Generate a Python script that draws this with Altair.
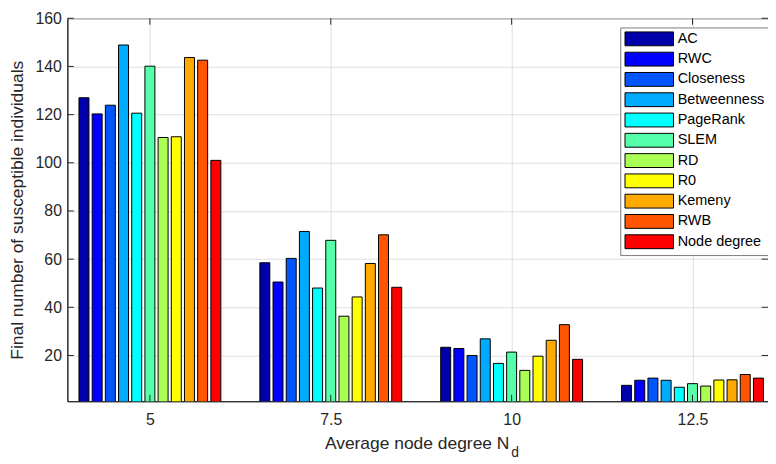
import altair as alt
import pandas as pd

methods = ["AC", "RWC", "Closeness", "Betweenness", "PageRank", "SLEM",
           "RD", "R0", "Kemeny", "RWB", "Node degree"]
colors = ["#0000AA", "#0000FF", "#0055FF", "#00AAFF", "#00FFFF", "#55FFAA",
          "#AAFF55", "#FFFF00", "#FFAA00", "#FF5500", "#FF0000"]
groups = [5, 7.5, 10, 12.5]
yticks = [20, 40, 60, 80, 100, 120, 140, 160]

ac = [127.0, 58.5, 23.4, 7.6]
rwc = [120.3, 50.5, 22.9, 9.7]
closeness = [123.9, 60.3, 20.0, 10.6]
betweenness = [148.9, 71.5, 26.9, 9.7]
pagerank = [120.6, 48.0, 16.7, 6.8]
slem = [140.1, 67.8, 21.4, 8.3]
rd = [110.5, 36.3, 13.8, 7.3]
r0 = [110.8, 44.3, 19.7, 9.8]
kemeny = [143.7, 58.2, 26.3, 9.9]
rwb = [142.6, 70.1, 32.8, 12.1]
node_degree = [101.0, 48.3, 18.4, 10.6]
series = [ac, rwc, closeness, betweenness, pagerank, slem, rd, r0, kemeny, rwb, node_degree]

rows = []
for i, (m, vals) in enumerate(zip(methods, series)):
    for g, v in zip(groups, vals):
        rows.append({"method": m, "idx": i, "group": g, "value": v})
df = pd.DataFrame(rows)

PITCH = 0.1823
HALF = 0.069
W, H = 708, 387
INK = "#262626"
GRID = "#dfdfdf"
FONT = "Liberation Sans"

xscale = alt.Scale(domain=[3.8592, 13.5437], nice=False, zero=False)
yscale = alt.Scale(domain=[1, 160], nice=False, zero=False)

xaxis = alt.Axis(
    values=groups, labelExpr="toString(datum.value)", title=None,
    labelFontSize=16, labelColor=INK,
    labelFont=FONT, labelPadding=10.5, ticks=False, grid=True, gridColor=GRID,
    domainColor=INK, labelFlush=False)
yaxis = alt.Axis(
    values=yticks, title="Final number of susceptible individuals",
    titleFontSize=17.6, titleFontWeight="normal", titleColor=INK, titleFont=FONT,
    titlePadding=9, labelFontSize=16, labelColor=INK, labelFont=FONT,
    labelPadding=6, ticks=False, grid=True, gridColor=GRID, domainColor=INK,
    labelFlush=False)

bars = alt.Chart(df).transform_calculate(
    x0=f"datum.group + (datum.idx - 5) * {PITCH} - {HALF}",
    x1=f"datum.group + (datum.idx - 5) * {PITCH} + {HALF}",
).mark_bar(stroke="black", strokeWidth=1, clip=True, opacity=1).encode(
    x=alt.X("x0:Q", scale=xscale, axis=xaxis),
    x2="x1:Q",
    y=alt.Y("value:Q", scale=yscale, axis=yaxis),
    y2=alt.datum(0),
    color=alt.Color("method:N", sort=methods,
                    scale=alt.Scale(domain=methods, range=colors),
                    legend=alt.Legend(
                        title=None, orient="none", legendX=558.7, legendY=9.3,
                        direction="vertical",
                        symbolType="M-3.5,-1H3.5V1H-3.5Z", symbolSize=196,
                        symbolStrokeColor="black", symbolStrokeWidth=1,
                        symbolOpacity=1, symbolOffset=17.8, labelOffset=21.2,
                        labelFontSize=14.6, labelColor="black", labelFont=FONT,
                        labelLimit=300, padding=4, rowPadding=1.5,
                        strokeColor="#7a7a7a", fillColor="white")),
)

tick_df = pd.DataFrame({"t": yticks})
grp_df = pd.DataFrame({"g": groups})
yt_left = alt.Chart(tick_df).mark_rule(color=INK).encode(
    y=alt.Y("t:Q", scale=yscale, axis=yaxis), x=alt.value(0), x2=alt.value(6.5))
yt_right = alt.Chart(tick_df).mark_rule(color=INK).encode(
    y=alt.Y("t:Q", scale=yscale, axis=yaxis), x=alt.value(W - 6.5), x2=alt.value(W))
xt_bot = alt.Chart(grp_df).mark_rule(color=INK).encode(
    x=alt.X("g:Q", scale=xscale, axis=xaxis), y=alt.value(H - 6.5), y2=alt.value(H))
xt_top = alt.Chart(grp_df).mark_rule(color=INK).encode(
    x=alt.X("g:Q", scale=xscale, axis=xaxis), y=alt.value(0), y2=alt.value(6.5))

xtitle = alt.Chart(pd.DataFrame({"t": ["Average node degree N"]})).mark_text(
    align="right", baseline="alphabetic", fontSize=17.6, font=FONT, color=INK
).encode(text="t:N", x=alt.value(446.7), y=alt.value(435))
xsub = alt.Chart(pd.DataFrame({"t": ["d"]})).mark_text(
    align="left", baseline="alphabetic", fontSize=14, font=FONT, color=INK
).encode(text="t:N", x=alt.value(448.5), y=alt.value(443))

chart = alt.layer(bars, yt_left, yt_right, xt_bot, xt_top, xtitle, xsub).properties(
    width=W, height=H,
    autosize=alt.AutoSizeParams(type="none"),
    padding={"left": 60, "top": 8, "right": 0, "bottom": 56},
).configure(font=FONT).configure_view(stroke=INK, strokeWidth=1)

chart.save("out.html", embed_options={"renderer": "svg", "actions": False})
